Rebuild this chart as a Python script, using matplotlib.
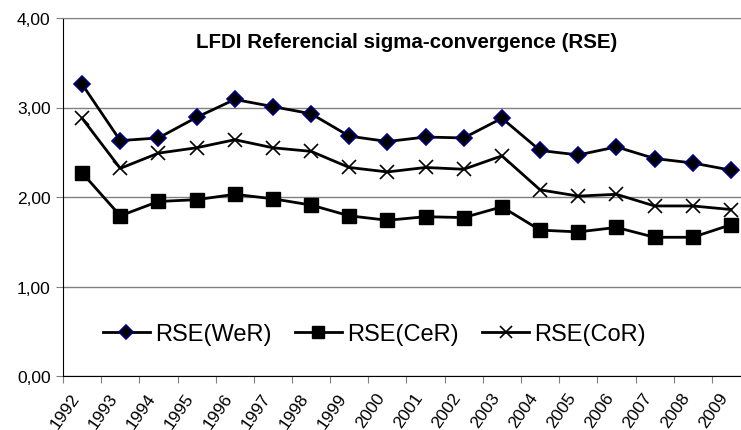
import matplotlib
matplotlib.use("Agg")
import matplotlib.pyplot as plt
import matplotlib.transforms as mtransforms

years = [str(y) for y in range(1992, 2010)]
rse_wer = [3.26, 2.63, 2.66, 2.89, 3.09, 3.01, 2.93, 2.68, 2.62, 2.67, 2.66, 2.88, 2.52, 2.47, 2.56, 2.43, 2.38, 2.30]
rse_cer = [2.27, 1.79, 1.95, 1.97, 2.03, 1.98, 1.91, 1.79, 1.74, 1.78, 1.77, 1.89, 1.63, 1.61, 1.66, 1.55, 1.55, 1.69]
rse_cor = [2.88, 2.32, 2.49, 2.55, 2.64, 2.55, 2.51, 2.33, 2.28, 2.33, 2.31, 2.46, 2.08, 2.01, 2.03, 1.90, 1.90, 1.86]
yticks = [0, 1, 2, 3, 4]
ytick_labels = ["0,00", "1,00", "2,00", "3,00", "4,00"]

plt.rcParams['font.family'] = ['Liberation Sans', 'DejaVu Sans']

fig = plt.figure(figsize=(7.41, 4.31), dpi=100)
ax = fig.add_axes([63/741, 1 - 377/431, (750 - 63)/741, (377 - 19)/431])

x = list(range(len(years)))
ax.plot(x, rse_wer, color='black', lw=2, marker='D', ms=8, mfc='black', mec='#000080', mew=1.2, label='RSE(WeR)')
ax.plot(x, rse_cer, color='black', lw=2, marker='s', ms=10, mfc='black', mec='black', label='RSE(CeR)')
ax.plot(x, rse_cor, color='black', lw=2, marker='x', ms=10, mew=1.2, mec='black', label='RSE(CoR)')

ax.set_xlim(-0.5, len(years) - 0.5)
ax.set_ylim(0, 4)
ax.set_yticks(yticks)
ax.set_yticklabels(ytick_labels)
ax.set_xticks([i - 0.5 for i in range(len(years) + 1)])
ax.set_xticklabels([])
ax.set_xticks(x, minor=True)
ax.set_xticklabels(years, minor=True, rotation=55, ha='right', va='top', rotation_mode='anchor')
ax.tick_params(axis='x', which='minor', length=0, pad=10, labelsize=12.5)
ax.tick_params(axis='x', which='major', length=5, direction='out', color='#808080')
ax.tick_params(axis='y', length=5, direction='out', labelsize=12.5, pad=4, color='#808080')

offset = mtransforms.ScaledTranslation(-12/100, 0, fig.dpi_scale_trans)
for lab in ax.get_xticklabels(minor=True):
    lab.set_transform(lab.get_transform() + offset)

ax.yaxis.grid(True, color='#808080', lw=1)
ax.set_axisbelow(True)
ax.spines['right'].set_visible(False)
ax.spines['top'].set_color('#808080')
ax.spines['left'].set_color('black')
ax.spines['bottom'].set_color('black')

ax.text(0.5, 0.935, 'LFDI Referencial sigma-convergence (RSE)', transform=ax.transAxes,
        ha='center', va='center', fontsize=14.8, fontweight='bold')

ax.legend(loc='center', bbox_to_anchor=(0.453, 0.116), ncol=3, frameon=False, fontsize=17,
          handlelength=2.0, columnspacing=1.0, handletextpad=0.2, borderpad=0, markerscale=0.9)

fig.savefig('out.png', dpi=100)
